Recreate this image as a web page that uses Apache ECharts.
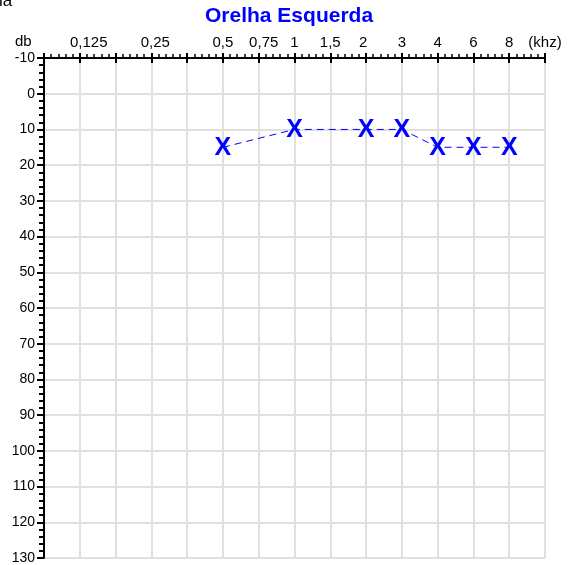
<!DOCTYPE html>
<html>
<head>
<meta charset="utf-8">
<script src="https://cdn.jsdelivr.net/npm/echarts@6/dist/echarts.min.js"></script>
<style>
html,body{margin:0;padding:0;background:#fff;}
#chart{width:571px;height:565px;}
</style>
</head>
<body>
<div id="chart"></div>
<script>
// Tick labels for the frequency axis (one per grid column, blanks where no label)
var xTickLabels = ['', '0,125', '', '0,25', '', '0,5', '0,75', '1', '1,5', '2', '3', '4', '6', '8', '(khz)'];
// Measured frequencies (kHz labels) and thresholds (dB)
var frequencies = ['0,5', '1', '2', '3', '4', '6', '8'];
var thresholds = [15, 10, 10, 10, 15, 15, 15];
var yMin = -10, yMax = 130, yStep = 10;

var points = frequencies.map(function (f, i) {
  return [xTickLabels.indexOf(f), thresholds[i]];
});

// small horizontal nudges of some tick labels, as seen in the reference
var labelNudge = {'0,125': 9, '0,25': 4, '0,75': 5, '2': -3};

var rich = {};
xTickLabels.forEach(function (t, i) {
  var n = labelNudge[t] || 0;
  rich['l' + i] = {
    fontSize: 15, color: '#000', fontFamily: 'Liberation Sans, Arial, sans-serif',
    padding: n > 0 ? [0, 0, 0, 2 * n] : [0, -2 * n, 0, 0]
  };
});

var chart = echarts.init(document.getElementById('chart'));
var fontFam = 'Liberation Sans, Arial, sans-serif';
chart.setOption({
  animation: false,
  backgroundColor: '#fff',
  title: {
    text: 'Orelha Esquerda',
    left: 200, top: 1,
    textStyle: {color: '#0000ff', fontSize: 21, fontWeight: 'bold', fontFamily: fontFam}
  },
  graphic: [
    {type: 'text', style: {x: -1, y: 10, verticalAlign: 'bottom', text: 'ia', fontSize: 17, fontFamily: fontFam, fill: '#000'}},
    {type: 'text', left: 15, top: 34, style: {text: 'db', fontSize: 15, fontFamily: fontFam, fill: '#000'}}
  ],
  grid: {left: 44, right: 26, top: 58, bottom: 7, containLabel: false},
  xAxis: [{
    type: 'value', position: 'top', min: 0, max: xTickLabels.length - 1, interval: 1,
    axisLine: {show: true, onZero: false, lineStyle: {color: '#000', width: 2}},
    axisTick: {show: true, length: 5, lineStyle: {color: '#000', width: 2}},
    minorTick: {show: true, splitNumber: 5, length: 4, lineStyle: {color: '#000', width: 1.5}},
    axisLabel: {margin: 8, fontSize: 15, color: '#000', fontFamily: fontFam, showMinLabel: true, showMaxLabel: true,
      rich: rich,
      formatter: function (v) {
        var i = Math.round(v);
        var t = xTickLabels[i] || '';
        return t ? '{l' + i + '|' + t + '}' : '';
      }},
    splitLine: {show: true, lineStyle: {color: '#e0e0e0', width: 2}}
  }, {
    type: 'value', position: 'top', offset: 0, min: 0, max: xTickLabels.length - 1, interval: 1,
    axisLine: {show: false, onZero: false},
    axisTick: {show: true, inside: true, length: 5, lineStyle: {color: '#000', width: 2}},
    axisLabel: {show: false},
    splitLine: {show: false}
  }],
  yAxis: {
    type: 'value', inverse: true, min: yMin, max: yMax, interval: yStep,
    axisLine: {show: true, onZero: false, lineStyle: {color: '#000', width: 2}},
    axisTick: {show: true, length: 7, lineStyle: {color: '#000', width: 2}},
    minorTick: {show: true, splitNumber: 5, length: 5, lineStyle: {color: '#000', width: 2}},
    axisLabel: {margin: 9, fontSize: 14, color: '#000', fontFamily: fontFam},
    splitLine: {show: true, lineStyle: {color: '#e0e0e0', width: 2}}
  },
  series: [{
    type: 'line', data: points, symbol: 'none', z: 2,
    lineStyle: {color: '#0000ff', width: 1, type: [7, 5]}
  }, {
    type: 'scatter', data: points, symbolSize: 1, z: 3,
    itemStyle: {color: 'rgba(0,0,0,0)', opacity: 1},
    label: {show: true, position: 'inside', formatter: 'X', color: '#0000ff', opacity: 1,
      textBorderWidth: 0, textBorderColor: 'transparent',
      fontSize: 25, fontWeight: 'bold', fontFamily: fontFam, offset: [0, 1]}
  }]
});
</script>
</body>
</html>
